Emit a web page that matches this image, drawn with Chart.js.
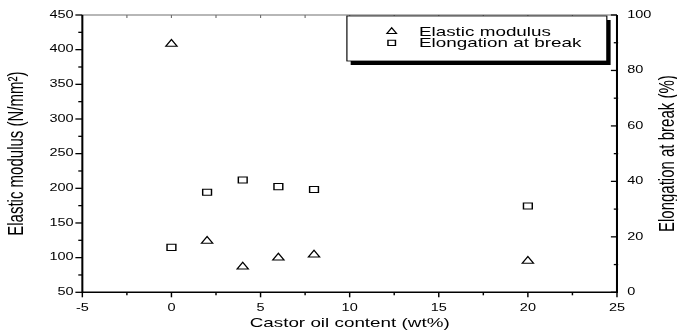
<!DOCTYPE html>
<html>
<head>
<meta charset="utf-8">
<script src="https://cdn.jsdelivr.net/npm/chart.js@4.4.1/dist/chart.umd.min.js"></script>
<style>
  html, body { margin: 0; padding: 0; background: #fff; overflow: hidden; }
  #plot { display: block; }
</style>
</head>
<body>
<canvas id="plot" width="467" height="334" style="width:677px;height:334px"></canvas>
<script>
// Castor oil content (wt%)
const castorOil = [0, 2, 4, 6, 8, 20];
// Elastic modulus (N/mm²), left axis
const elasticModulus = [408, 124, 87, 100, 104, 95];
// Elongation at break (%), right axis
const elongationAtBreak = [16.2, 36.1, 40.5, 38.1, 37.1, 31.1];

const xTicks = [-5, 0, 5, 10, 15, 20, 25];
const modulusTicks = [50, 100, 150, 200, 250, 300, 350, 400, 450];
const elongationTicks = [0, 20, 40, 60, 80, 100];

const seriesNames = ['Elastic modulus', 'Elongation at break'];
const titles = {
  x: 'Castor oil content (wt%)',
  left: 'Elastic modulus (N/mm²)',
  right: 'Elongation at break (%)'
};

// The figure is laid out 467 units wide and drawn stretched across the 677px page.
const PAGE_W = 677, LOGICAL_W = 467, H = 334;
const SX = PAGE_W / LOGICAL_W;
const FONT = "'Liberation Sans', Arial, Helvetica, sans-serif";

const toPoints = (xs, ys) => xs.map((x, i) => ({ x, y: ys[i] }));
const fixedTicks = list => axis => { axis.ticks = list.map(value => ({ value })); };

const minorBetween = list => {
  const out = [];
  for (let i = 0; i < list.length - 1; i++) out.push((list[i] + list[i + 1]) / 2);
  return out;
};

// Axis frame, tick marks, rotated titles and the boxed legend.
const framePlugin = {
  id: 'frame',
  afterDraw(chart) {
    const { ctx, chartArea: a, scales } = chart;
    const sx = scales.x, sy = scales.y, sy2 = scales.y2;
    ctx.save();
    ctx.lineCap = 'butt';

    const line = (x1, y1, x2, y2, w, c) => {
      ctx.beginPath();
      ctx.moveTo(x1, y1);
      ctx.lineTo(x2, y2);
      ctx.lineWidth = w;
      ctx.strokeStyle = c;
      ctx.stroke();
    };

    // top edge (grey) with short inward ticks
    line(a.left, a.top, a.right, a.top, 1, '#707070');
    xTicks.forEach(v => { const p = sx.getPixelForValue(v); line(p, a.top, p, a.top + 3, 0.8, '#707070'); });
    minorBetween(xTicks).forEach(v => { const p = sx.getPixelForValue(v); line(p, a.top, p, a.top + 3, 0.8, '#707070'); });

    // bottom axis, ticks pointing out
    line(a.left, a.bottom, a.right, a.bottom, 1.5, '#000');
    xTicks.forEach(v => { const p = sx.getPixelForValue(v); line(p, a.bottom, p, a.bottom + 5, 1, '#000'); });
    minorBetween(xTicks).forEach(v => { const p = sx.getPixelForValue(v); line(p, a.bottom, p, a.bottom + 3, 1, '#000'); });

    // left axis, ticks pointing out
    line(a.left, a.top, a.left, a.bottom + 0.75, 1.4, '#000');
    modulusTicks.forEach(v => { const p = sy.getPixelForValue(v); line(a.left - 4.8, p, a.left, p, 1.3, '#000'); });
    minorBetween(modulusTicks).forEach(v => { const p = sy.getPixelForValue(v); line(a.left - 2.8, p, a.left, p, 1.3, '#000'); });

    // right axis, ticks pointing in
    line(a.right, a.top, a.right, a.bottom + 0.75, 1.4, '#000');
    elongationTicks.forEach(v => { const p = sy2.getPixelForValue(v); line(a.right - 4.2, p, a.right, p, 1.3, '#000'); });
    minorBetween(elongationTicks).forEach(v => { const p = sy2.getPixelForValue(v); line(a.right - 2.2, p, a.right + 0.8, p, 1.3, '#000'); });

    // vertical titles, both reading bottom to top
    const midY = (a.top + a.bottom) / 2;
    ctx.fillStyle = '#000';
    ctx.font = '15px ' + FONT;
    ctx.textAlign = 'center';
    ctx.textBaseline = 'middle';
    [[11.5, titles.left], [460.8, titles.right]].forEach(([x, text]) => {
      ctx.save();
      ctx.translate(x, midY);
      ctx.rotate(-Math.PI / 2);
      ctx.fillText(text, 0, 0);
      ctx.restore();
    });

    // legend box with a drop shadow
    const box = { l: 239.3, t: 16, r: 418.6, b: 61 };
    ctx.fillStyle = '#000';
    ctx.fillRect(box.l + 2.6, box.t + 4, box.r - box.l, box.b - box.t);
    ctx.fillStyle = '#fff';
    ctx.fillRect(box.l, box.t, box.r - box.l, box.b - box.t);
    ctx.lineWidth = 0.8;
    ctx.strokeStyle = '#000';
    ctx.strokeRect(box.l, box.t, box.r - box.l, box.b - box.t);

    const rows = [31.5, 42.8];
    chart.data.datasets.forEach((ds, i) => {
      ctx.fillStyle = 'rgba(0,0,0,0)';
      ctx.strokeStyle = ds.pointBorderColor;
      ctx.lineWidth = ds.pointBorderWidth;
      Chart.helpers.drawPoint(ctx, {
        pointStyle: ds.pointStyle,
        rotation: 0,
        radius: ds.pointRadius * 0.85,
        borderWidth: ds.pointBorderWidth
      }, 270.2, rows[i]);
      ctx.fillStyle = '#000';
      ctx.font = '13px ' + FONT;
      ctx.textAlign = 'left';
      ctx.textBaseline = 'middle';
      ctx.fillText(ds.label, 289, rows[i] + 0.5);
    });

    ctx.restore();
  }
};

const tickFont = { family: FONT, size: 10 };

const canvas = document.getElementById('plot');
const chart = new Chart(canvas, {
  type: 'scatter',
  data: {
    datasets: [
      {
        label: seriesNames[0],
        data: toPoints(castorOil, elasticModulus),
        yAxisID: 'y',
        pointStyle: 'triangle',
        pointRadius: 4.5,
        pointBorderWidth: 1,
        pointBorderColor: '#000',
        pointBackgroundColor: 'rgba(255,255,255,0)',
        showLine: false
      },
      {
        label: seriesNames[1],
        data: toPoints(castorOil, elongationAtBreak),
        yAxisID: 'y2',
        pointStyle: 'rect',
        pointRadius: 4.3,
        pointBorderWidth: 1,
        pointBorderColor: '#000',
        pointBackgroundColor: 'rgba(255,255,255,0)',
        showLine: false
      }
    ]
  },
  options: {
    responsive: false,
    animation: false,
    devicePixelRatio: 1,
    events: [],
    layout: { padding: { top: 15, left: 0, right: 0, bottom: 0 } },
    plugins: { legend: { display: false }, tooltip: { enabled: false } },
    scales: {
      x: {
        type: 'linear',
        position: 'bottom',
        min: xTicks[0],
        max: xTicks[xTicks.length - 1],
        afterBuildTicks: fixedTicks(xTicks),
        afterFit: axis => { axis.height = 41.7; },
        grid: { display: false, drawTicks: false },
        border: { display: false },
        ticks: { color: '#000', font: tickFont, padding: 9.5, maxRotation: 0 },
        title: {
          display: true,
          text: titles.x,
          color: '#000',
          font: { family: FONT, size: 13 },
          padding: { top: 0, bottom: 2.5 }
        }
      },
      y: {
        type: 'linear',
        position: 'left',
        min: modulusTicks[0],
        max: modulusTicks[modulusTicks.length - 1],
        afterBuildTicks: fixedTicks(modulusTicks),
        afterFit: axis => { axis.width = 56.8; },
        grid: { display: false, drawTicks: false },
        border: { display: false },
        ticks: { color: '#000', font: tickFont, padding: 6 }
      },
      y2: {
        type: 'linear',
        position: 'right',
        min: elongationTicks[0],
        max: elongationTicks[elongationTicks.length - 1],
        afterBuildTicks: fixedTicks(elongationTicks),
        afterFit: axis => { axis.width = LOGICAL_W - 425.6; },
        grid: { display: false, drawTicks: false },
        border: { display: false },
        ticks: { color: '#000', font: tickFont, padding: 7 }
      }
    }
  },
  plugins: [framePlugin]
});

// Give the canvas a full-width backing store and redraw through a horizontal stretch.
canvas.width = PAGE_W;
canvas.height = H;
const ctx2d = canvas.getContext('2d');
ctx2d.setTransform(SX, 0, 0, 1, 0, 0);
chart.draw();
</script>
</body>
</html>
